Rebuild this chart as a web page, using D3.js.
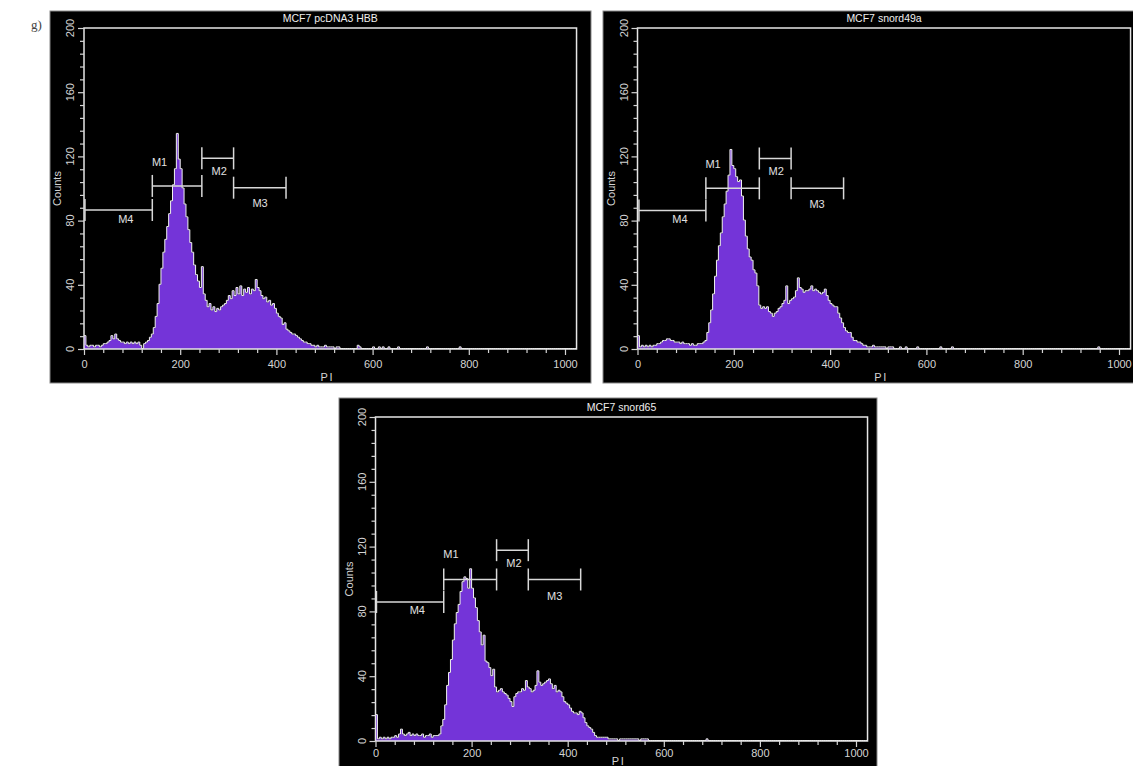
<!DOCTYPE html>
<html><head><meta charset="utf-8">
<script src="https://cdn.jsdelivr.net/npm/d3@7"></script>
<style>body{margin:0;background:#fff;}svg{display:block;}</style>
</head><body><svg id="c" width="1133" height="766"></svg>
<script>
// ---------- DATA ----------
const binWidth = 4;               // channels per bin
const channelMax = 1024;
const xTickValues = [0, 200, 400, 600, 800, 1000];
const yTickValues = [0, 40, 80, 120, 160, 200];
const markerNames = ["M1", "M2", "M3", "M4"];

// MCF7 pcDNA3 HBB : counts per 4-channel bin starting at channel 0
const hbbCounts = [
  8,2,1,2,2,1,2,2,1,2,
  3,3,4,5,8,6,9,6,5,4,
  4,3,4,3,4,3,4,3,4,2,
  0,3,4,5,7,9,13,20,28,40,
  50,60,68,76,84,92,102,112,134,118,
  112,100,90,82,74,66,60,52,46,42,
  38,51,34,30,26,28,24,26,23,25,
  24,26,27,28,30,33,31,36,33,38,
  34,39,33,37,35,38,34,37,36,43,
  38,36,33,31,32,29,30,27,28,25,
  22,20,19,15,16,12,11,10,9,9,
  8,7,6,5,4,4,3,3,2,2,
  1,2,1,1,1,2,1,1,1,1,
  0,1,1,0
];
const hbbSparse = [[568,2],[572,1],[600,1],[612,1],[620,1],[632,1],[652,1],[712,1],[780,1]];
const hbbGates = [[142,245],[245,311],[311,420],[2,142]];
const hbbGateY = [101.6,118.8,100.5,86.6];
const hbbLabelPos = [[157,116.8],[281,111],[366,90.7],[87,81]];

// MCF7 snord49a
const snord49aCounts = [
  8,1,2,1,2,1,2,1,2,2,
  3,3,4,5,5,6,6,5,5,4,
  4,4,3,4,3,3,3,2,3,2,
  2,3,3,3,4,5,10,16,24,34,
  45,55,64,72,82,90,98,108,124,114,
  112,107,104,105,95,80,70,62,57,55,
  49,47,39,27,25,26,25,26,23,22,
  20,22,23,25,26,28,30,39,28,30,
  31,32,36,44,38,37,35,36,36,37,
  39,36,37,36,35,34,35,37,33,30,
  28,27,26,26,22,19,16,13,11,10,
  10,7,5,5,4,4,3,2,2,1,
  1,1,2,1,1,1,1,1,1,0,
  1,1,1,0
];
const snord49aSparse = [[544,1],[556,1],[580,1],[628,1],[652,1],[956,1]];
const snord49aGates = [[142,253],[253,319],[319,428],[3,142]];
const snord49aGateY = [100.1,118.7,100.1,86.3];
const snord49aLabelPos = [[157,115.5],[288,110.7],[373,90.5],[88,81]];

// MCF7 snord65
const snord65Counts = [
  16,1,2,1,2,1,2,1,2,2,
  3,2,4,7,4,3,4,5,3,4,
  3,4,3,3,4,2,3,3,4,2,
  3,3,3,4,9,13,22,34,42,50,
  62,72,79,84,92,98,101,100,94,106,
  94,88,82,74,67,59,65,49,48,45,
  40,44,33,30,31,32,30,29,28,26,
  24,21,27,29,30,30,32,31,37,33,
  32,30,31,34,43,36,34,35,36,37,
  38,35,32,34,30,31,30,27,24,23,
  22,20,18,17,17,16,18,17,14,11,
  9,8,7,5,3,2,2,2,2,2,
  2,1,1,1,1,1,0,1,1,1,
  1,1,1,1,1,1,1,0,1,1,1,1
];
const snord65Sparse = [[688,1]];
const snord65Gates = [[142,252],[252,318],[318,427],[2,142]];
const snord65GateY = [99.7,117.8,99.7,85.8];
const snord65LabelPos = [[157,115.3],[288,110],[373,89.5],[87,80.6]];

// ---------- LAYOUT ----------
const panels = [
  {title:"MCF7 pcDNA3 HBB", counts:hbbCounts, sparse:hbbSparse, gates:hbbGates, gateY:hbbGateY, labels:hbbLabelPos,
   box:[50,11,541,372], xr:[84,565], yr:[349,28], tickDy:"0.95em", piY:381},
  {title:"MCF7 snord49a", counts:snord49aCounts, sparse:snord49aSparse, gates:snord49aGates, gateY:snord49aGateY, labels:snord49aLabelPos,
   box:[603,11,545,372], xr:[637.5,1119], yr:[349,28], tickDy:"0.95em", piY:381},
  {title:"MCF7 snord65", counts:snord65Counts, sparse:snord65Sparse, gates:snord65Gates, gateY:snord65GateY, labels:snord65LabelPos,
   box:[339,398,538,380], xr:[375.5,856], yr:[741,417], tickDy:"0.6em", piY:765}
];

const svg = d3.select("#c");
const FONT = "'Liberation Sans', Arial, sans-serif";
const fg = "#d4d4d4";

svg.append("text").attr("x",31).attr("y",29).text("g)")
  .attr("font-family","'Liberation Serif', 'Times New Roman', serif").attr("font-size",13).attr("fill","#444");

panels.forEach((p, pi) => {
  const g = svg.append("g");
  g.append("rect").attr("x",p.box[0]).attr("y",p.box[1]).attr("width",p.box[2]).attr("height",p.box[3])
    .attr("fill","#000").attr("stroke","#888").attr("stroke-width",1);

  const x = d3.scaleLinear().domain([0,1000]).range(p.xr);
  const y = d3.scaleLinear().domain([0,200]).range(p.yr);

  // build histogram bins
  const bins = [];
  const sparseMap = new Map(p.sparse);
  for (let ch = 0; ch <= channelMax; ch += binWidth) {
    const i = ch / binWidth;
    let v = i < p.counts.length ? p.counts[i] : (sparseMap.get(ch) || 0);
    bins.push({ch, v});
  }

  const clipId = "clip" + pi;
  svg.append("clipPath").attr("id", clipId).append("rect")
    .attr("x", x(0)).attr("y", y(200)).attr("width", x(channelMax) - x(0)).attr("height", y(0) - y(200));

  const area = d3.area().curve(d3.curveStepAfter)
    .x(d => x(d.ch)).y0(y(0)).y1(d => y(d.v));
  const line = d3.line().curve(d3.curveStepAfter)
    .x(d => x(d.ch)).y(d => y(d.v) - 0.5);

  const hg = g.append("g").attr("clip-path", `url(#${clipId})`);
  hg.append("path").datum(bins).attr("d", area).attr("fill", "#7434d8");
  hg.append("path").datum(bins).attr("d", line).attr("fill","none").attr("stroke","#f2f2f2").attr("stroke-width",1);

  // frame
  g.append("rect").attr("x", x(0)).attr("y", y(200)).attr("width", x(channelMax) - x(0)).attr("height", y(0) - y(200))
    .attr("fill","none").attr("stroke","#e6e6e6").attr("stroke-width",1.5);

  // x axis ticks
  const xAxis = d3.axisBottom(x).tickValues(xTickValues).tickSize(6).tickFormat(d3.format("d"));
  const xMinor = d3.axisBottom(x).tickValues(d3.range(40, 1024, 40).filter(v => v % 200 !== 0)).tickSize(4).tickFormat("");
  [xAxis, xMinor].forEach((ax, k) => {
    const a = g.append("g").attr("transform", `translate(0,${y(0)})`).call(ax);
    a.select(".domain").remove();
    a.selectAll("line").attr("stroke", fg).attr("stroke-width", 1.2);
    a.selectAll("text").attr("fill", fg).attr("font-family", FONT).attr("font-size", 11).attr("dy", p.tickDy);
  });

  // y axis ticks
  const yAxis = d3.axisLeft(y).tickValues(yTickValues).tickSize(6).tickFormat("");
  const yMinor = d3.axisLeft(y).tickValues(d3.range(8, 200, 8).filter(v => v % 40 !== 0)).tickSize(4).tickFormat("");
  [yAxis, yMinor].forEach(ax => {
    const a = g.append("g").attr("transform", `translate(${x(0)},0)`).call(ax);
    a.select(".domain").remove();
    a.selectAll("line").attr("stroke", fg).attr("stroke-width", 1.2);
  });
  yTickValues.forEach(v => {
    g.append("text").attr("transform", `translate(${x(0) - 14},${y(v)}) rotate(-90)`)
      .attr("text-anchor","middle").attr("dominant-baseline","central")
      .attr("font-family", FONT).attr("font-size", 11).attr("fill", fg).text(v);
  });

  // axis titles
  g.append("text").attr("transform", `translate(${x(0) - 27},${(y(0) + y(200)) / 2}) rotate(-90)`)
    .attr("text-anchor","middle").attr("dominant-baseline","central")
    .attr("font-family", FONT).attr("font-size", 11).attr("fill", fg).text("Counts");
  g.append("text").attr("x", (x(0) + x(channelMax)) / 2 - 3).attr("y", p.piY)
    .attr("text-anchor","middle").attr("font-family", FONT).attr("font-size", 11)
    .attr("letter-spacing", "1.5px").attr("fill", fg).text("PI");

  // title
  g.append("text").attr("x", (x(0) + x(channelMax)) / 2).attr("y", y(200) - 6)
    .attr("text-anchor","middle").attr("font-family", FONT).attr("font-size", 10.5).attr("fill", "#eee").text(p.title);

  // markers
  const tickH = 11;
  markerNames.forEach((name, i) => {
    const [a, b] = p.gates[i];
    const yy = y(p.gateY[i]);
    const mg = g.append("g").attr("stroke", "#d8d8d8").attr("stroke-width", 1.5);
    mg.append("line").attr("x1", x(a)).attr("x2", x(b)).attr("y1", yy).attr("y2", yy);
    mg.append("line").attr("x1", x(a)).attr("x2", x(a)).attr("y1", yy - tickH).attr("y2", yy + tickH);
    mg.append("line").attr("x1", x(b)).attr("x2", x(b)).attr("y1", yy - tickH).attr("y2", yy + tickH);
    const [lx, ly] = p.labels[i];
    g.append("text").attr("x", x(lx)).attr("y", y(ly)).attr("text-anchor","middle").attr("dominant-baseline","central")
      .attr("font-family", FONT).attr("font-size", 11).attr("fill", "#e0e0e0").text(name);
  });
});
</script></body></html>
